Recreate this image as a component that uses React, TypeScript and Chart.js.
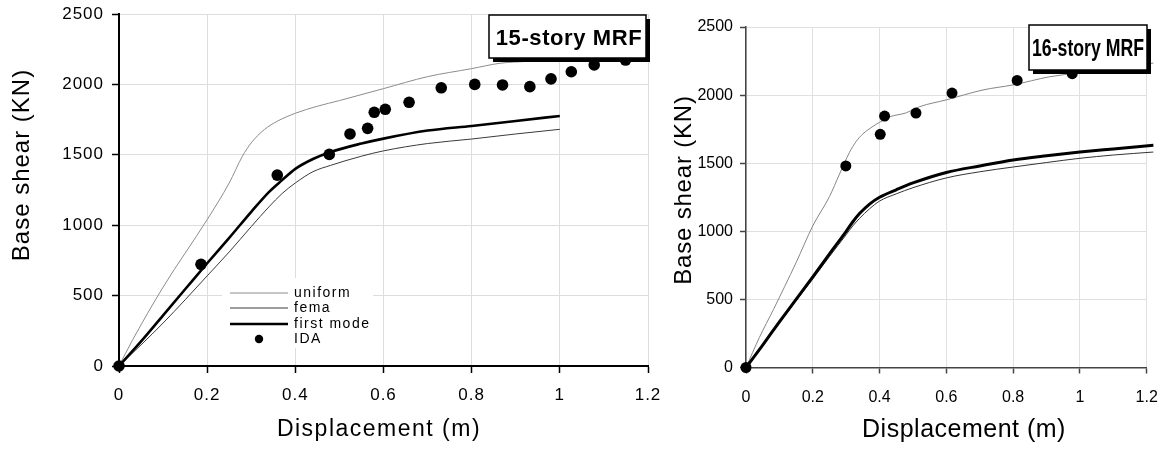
import React, { useEffect, useRef } from 'react';
import { Chart, registerables } from 'chart.js';

Chart.register(...registerables);

const FAMILY = "'Liberation Sans', Arial, Helvetica, sans-serif";

// ---- shared labels ----
const xTickLabels = ['0', '0.2', '0.4', '0.6', '0.8', '1', '1.2'];
const yTickLabels = ['0', '500', '1000', '1500', '2000', '2500'];
const seriesNames = ['uniform', 'fema', 'first mode', 'IDA'];
const titles = ['15-story MRF', '16-story MRF'];
const xAxisTitle = 'Displacement (m)';
const yAxisTitle = 'Base shear (KN)';

// ---- 15-story MRF ----
const mrf15UniformX = [0, 0.03, 0.1, 0.2, 0.25, 0.28, 0.3, 0.33, 0.36, 0.4, 0.45, 0.5, 0.6, 0.7, 0.8, 0.864, 0.93, 1.0];
const mrf15UniformY = [0, 180, 560, 1040, 1300, 1490, 1585, 1680, 1740, 1795, 1845, 1885, 1970, 2055, 2112, 2150, 2165, 2190];
const mrf15FemaX = [0, 0.05, 0.1, 0.15, 0.2, 0.25, 0.3, 0.34, 0.37, 0.4, 0.44, 0.48, 0.55, 0.6, 0.7, 0.8, 0.9, 1.0];
const mrf15FemaY = [0, 150, 305, 470, 640, 810, 990, 1130, 1225, 1300, 1380, 1425, 1490, 1528, 1580, 1612, 1648, 1681];
const mrf15FirstX = [0, 0.05, 0.1, 0.15, 0.2, 0.25, 0.3, 0.34, 0.37, 0.4, 0.44, 0.48, 0.55, 0.6, 0.7, 0.8, 0.9, 1.0];
const mrf15FirstY = [0, 175, 360, 545, 730, 910, 1095, 1235, 1320, 1400, 1470, 1520, 1580, 1615, 1672, 1705, 1740, 1776];
const mrf15IdaX = [0, 0.186, 0.359, 0.477, 0.524, 0.564, 0.579, 0.604, 0.658, 0.731, 0.807, 0.87, 0.932, 0.98, 1.026, 1.078, 1.149];
const mrf15IdaY = [0, 722, 1356, 1503, 1648, 1688, 1802, 1823, 1873, 1976, 2000, 1996, 1984, 2039, 2090, 2138, 2173];

// ---- 16-story MRF ----
const mrf16UniformX = [0, 0.04, 0.082, 0.15, 0.2, 0.25, 0.28, 0.31, 0.33, 0.35, 0.38, 0.4, 0.43, 0.48, 0.52, 0.6, 0.71, 0.8, 0.91, 1.0, 1.1, 1.22];
const mrf16UniformY = [0, 220, 425, 770, 1040, 1255, 1420, 1580, 1660, 1715, 1770, 1800, 1840, 1870, 1915, 1965, 2038, 2075, 2135, 2165, 2200, 2235];
const mrf16FemaX = [0, 0.05, 0.1, 0.15, 0.2, 0.25, 0.3, 0.32, 0.34, 0.37, 0.4, 0.45, 0.5, 0.6, 0.7, 0.8, 0.9, 1.0, 1.1, 1.22];
const mrf16FemaY = [0, 160, 325, 490, 650, 815, 975, 1040, 1095, 1165, 1222, 1275, 1320, 1392, 1437, 1472, 1505, 1536, 1560, 1582];
const mrf16FirstX = [0, 0.05, 0.1, 0.15, 0.2, 0.25, 0.3, 0.32, 0.34, 0.37, 0.4, 0.45, 0.5, 0.6, 0.7, 0.8, 0.9, 1.0, 1.1, 1.22];
const mrf16FirstY = [0, 165, 335, 500, 665, 835, 1000, 1070, 1130, 1200, 1250, 1305, 1355, 1432, 1480, 1524, 1555, 1582, 1605, 1632];
const mrf16IdaX = [0, 0.299, 0.402, 0.415, 0.509, 0.617, 0.812, 0.977];
const mrf16IdaY = [0, 1480, 1712, 1846, 1868, 2015, 2108, 2157];

const pts = (xs: number[], ys: number[]) => xs.map((x, i) => ({ x, y: ys[i] }));
const findLabel = (labels: string[], v: number) => labels.find((l) => Math.abs(Number(l) - v) < 1e-6) ?? '';

const spacingPlugin = {
  id: 'spacing',
  beforeDraw(chart: any, _a: any, o: any) {
    (chart.ctx as any).letterSpacing = (o && o.px ? o.px : 0) + 'px';
  },
};

function drawText(ctx: any, t: any, rotate: boolean) {
  ctx.save();
  ctx.letterSpacing = (t.spacing || 0) + 'px';
  ctx.font = `${t.fontSize}px ${FAMILY}`;
  ctx.fillStyle = '#000';
  ctx.textAlign = 'center';
  ctx.textBaseline = 'middle';
  ctx.translate(t.cx, t.cy);
  if (rotate) ctx.rotate(-Math.PI / 2);
  ctx.fillText(t.text, 0, 0);
  ctx.restore();
}

// draws overlay items (legend, title box, axis titles) in page coordinates
const overlayPlugin = {
  id: 'overlay',
  afterDraw(chart: any, _a: any, o: any) {
    if (!o) return;
    const ctx = chart.ctx;
    ctx.save();
    ctx.translate(-o.originX, -o.originY);

    const lg = o.legend;
    if (lg && lg.show) {
      ctx.save();
      ctx.fillStyle = '#fff';
      ctx.fillRect(lg.boxX, lg.boxY, lg.boxW, lg.boxH);
      ctx.font = `${lg.fontSize}px ${FAMILY}`;
      (ctx as any).letterSpacing = lg.spacing + 'px';
      ctx.textBaseline = 'middle';
      ctx.textAlign = 'left';
      seriesNames.forEach((name, i) => {
        const ds = chart.data.datasets.find((d: any) => d.label === name);
        if (!ds) return;
        const y = lg.rowY[i];
        if (ds.showLine === false) {
          ctx.beginPath();
          ctx.arc((lg.lineX0 + lg.lineX1) / 2, y, lg.dotR, 0, Math.PI * 2);
          ctx.fillStyle = ds.backgroundColor;
          ctx.fill();
        } else {
          ctx.beginPath();
          ctx.moveTo(lg.lineX0, y);
          ctx.lineTo(lg.lineX1, y);
          ctx.strokeStyle = ds.borderColor;
          ctx.lineWidth = ds.borderWidth;
          ctx.stroke();
        }
        ctx.fillStyle = '#000';
        ctx.fillText(name, lg.textX, y);
      });
      ctx.restore();
    }

    if (o.xTitle) drawText(ctx, o.xTitle, false);
    if (o.yTitle) drawText(ctx, o.yTitle, true);

    const tb = o.titleBox;
    if (tb) {
      ctx.save();
      (ctx as any).letterSpacing = (tb.spacing || 0) + 'px';
      ctx.fillStyle = '#000';
      ctx.fillRect(tb.x + tb.shadow, tb.y + tb.shadow, tb.w, tb.h);
      ctx.fillStyle = '#fff';
      ctx.fillRect(tb.x, tb.y, tb.w, tb.h);
      ctx.strokeStyle = '#000';
      ctx.lineWidth = 1.5;
      ctx.strokeRect(tb.x, tb.y, tb.w, tb.h);
      ctx.font = `bold ${tb.fontSize}px ${FAMILY}`;
      ctx.textBaseline = 'alphabetic';
      ctx.textAlign = 'center';
      ctx.fillStyle = '#000';
      const w = ctx.measureText(tb.text).width;
      const sx = tb.fitWidth ? Math.min(1, tb.fitWidth / w) : 1;
      ctx.translate(tb.cx, tb.baseline);
      ctx.scale(sx, 1);
      ctx.fillText(tb.text, 0, 0);
      ctx.restore();
    }
    ctx.restore();
  },
};

function makeConfig(p: any): any {
  const lineDs = (label: string, data: any, color: string, width: number, order: number) => ({
    label,
    data,
    showLine: true,
    borderColor: color,
    backgroundColor: color,
    borderWidth: width,
    pointRadius: 0,
    cubicInterpolationMode: 'monotone',
    clip: p.lineClip,
    order,
  });
  return {
    type: 'line',
    data: {
      datasets: [
        lineDs(seriesNames[0], p.uniform, p.uniformColor, 1, 3),
        lineDs(seriesNames[1], p.fema, p.femaColor, 1, 2),
        lineDs(seriesNames[2], p.first, '#000', p.firstWidth, 1),
        {
          label: seriesNames[3],
          data: p.ida,
          showLine: false,
          pointRadius: p.dotR,
          pointStyle: 'circle',
          pointBackgroundColor: '#000',
          backgroundColor: '#000',
          pointBorderWidth: 0,
          borderWidth: 0,
          clip: false,
          order: 0,
        },
      ],
    },
    options: {
      animation: false,
      responsive: false,
      events: [],
      layout: { padding: { left: 0, top: p.padTop, right: p.padRight, bottom: 0 } },
      plugins: {
        legend: { display: false },
        tooltip: { enabled: false },
        spacing: { px: p.spacing },
        overlay: p.overlay,
      },
      scales: {
        x: {
          type: 'linear',
          min: 0,
          max: 1.2,
          ticks: {
            stepSize: 0.2,
            autoSkip: false,
            maxRotation: 0,
            color: '#000',
            padding: p.xTickPad,
            font: { family: FAMILY, size: p.tickSize },
            callback: (v: number) => findLabel(xTickLabels, v),
          },
          grid: { color: p.gridColor, lineWidth: 1, tickColor: p.axisColor, tickLength: p.tickLen, tickWidth: 1.5 },
          border: { color: p.axisColor, width: p.axisWidth },
          title: { display: false, text: xAxisTitle },
          afterFit: (s: any) => {
            s.height = p.xAxisH;
          },
        },
        y: {
          type: 'linear',
          min: 0,
          max: 2500,
          ticks: {
            stepSize: 500,
            color: '#000',
            padding: p.yTickPad,
            font: { family: FAMILY, size: p.tickSize },
            callback: (v: number) => findLabel(yTickLabels, v),
          },
          grid: { color: p.gridColor, lineWidth: 1, tickColor: p.axisColor, tickLength: p.tickLen, tickWidth: 1.5 },
          border: { color: p.axisColor, width: p.axisWidth },
          title: { display: false, text: yAxisTitle },
          afterFit: (s: any) => {
            s.width = p.yAxisW;
          },
        },
      },
    },
    plugins: [spacingPlugin, overlayPlugin],
  };
}

// canvas placement (page coords)
const LEFT_CANVAS = { left: 0, top: -6, width: 676, height: 458 };
const RIGHT_CANVAS = { left: 666, top: 0, width: 507, height: 452 };

const leftParams = () => ({
  uniform: pts(mrf15UniformX, mrf15UniformY),
  fema: pts(mrf15FemaX, mrf15FemaY),
  first: pts(mrf15FirstX, mrf15FirstY),
  ida: pts(mrf15IdaX, mrf15IdaY),
  uniformColor: '#8c8c8c',
  femaColor: '#3a3a3a',
  firstWidth: 2.6,
  dotR: 5.8,
  lineClip: undefined,
  padTop: 20,
  padRight: 28,
  spacing: 1,
  xTickPad: 12,
  yTickPad: 8,
  tickSize: 17,
  tickLen: 7,
  gridColor: '#dddddd',
  axisColor: '#000',
  axisWidth: 2,
  xAxisH: 86,
  yAxisW: 119,
  overlay: {
    originX: LEFT_CANVAS.left,
    originY: LEFT_CANVAS.top,
    xTitle: { text: xAxisTitle, fontSize: 23, spacing: 1.5, cx: 379, cy: 430 },
    yTitle: { text: yAxisTitle, fontSize: 24, spacing: 1, cx: 22.5, cy: 165 },
    legend: {
      show: true,
      boxX: 222,
      boxY: 278,
      boxW: 151,
      boxH: 70,
      rowY: [293, 308, 324, 339],
      lineX0: 230,
      lineX1: 288,
      textX: 294,
      fontSize: 14,
      spacing: 1.5,
      dotR: 4.2,
    },
    titleBox: {
      text: titles[0],
      x: 489,
      y: 15,
      w: 157,
      h: 43,
      shadow: 4,
      fontSize: 22,
      spacing: 0.6,
      cx: 569,
      baseline: 45,
    },
  },
});

const rightParams = () => ({
  uniform: pts(mrf16UniformX, mrf16UniformY),
  fema: pts(mrf16FemaX, mrf16FemaY),
  first: pts(mrf16FirstX, mrf16FirstY),
  ida: pts(mrf16IdaX, mrf16IdaY),
  uniformColor: '#858585',
  femaColor: '#333333',
  firstWidth: 3,
  dotR: 5.5,
  lineClip: false,
  padTop: 27,
  padRight: 26.3,
  spacing: 0,
  xTickPad: 14,
  yTickPad: 7,
  tickSize: 16,
  tickLen: 6,
  gridColor: '#e0e0e0',
  axisColor: '#444',
  axisWidth: 1.5,
  xAxisH: 84.5,
  yAxisW: 80,
  overlay: {
    originX: RIGHT_CANVAS.left,
    originY: RIGHT_CANVAS.top,
    legend: { show: false },
    xTitle: { text: xAxisTitle, fontSize: 25, spacing: 0.5, cx: 964, cy: 430 },
    yTitle: { text: yAxisTitle, fontSize: 24, spacing: 0.8, cx: 684, cy: 190 },
    titleBox: {
      text: titles[1],
      x: 1029,
      y: 25,
      w: 118,
      h: 45,
      shadow: 4,
      fontSize: 23,
      spacing: 0,
      fitWidth: 112,
      cx: 1088,
      baseline: 56,
    },
  },
});

function ChartPanel({ box, params }: { box: { left: number; top: number; width: number; height: number }; params: () => any }) {
  const ref = useRef<HTMLCanvasElement | null>(null);
  useEffect(() => {
    if (!ref.current) return;
    const chart = new Chart(ref.current, makeConfig(params()));
    return () => chart.destroy();
  }, []);
  return (
    <canvas
      ref={ref}
      width={box.width}
      height={box.height}
      style={{ position: 'absolute', left: box.left, top: box.top, width: box.width, height: box.height }}
    />
  );
}

export default function App() {
  return (
    <div style={{ position: 'absolute', left: 0, top: 0, width: 1164, height: 452, background: '#fff', overflow: 'hidden' }}>
      <ChartPanel box={LEFT_CANVAS} params={leftParams} />
      <ChartPanel box={RIGHT_CANVAS} params={rightParams} />
    </div>
  );
}
